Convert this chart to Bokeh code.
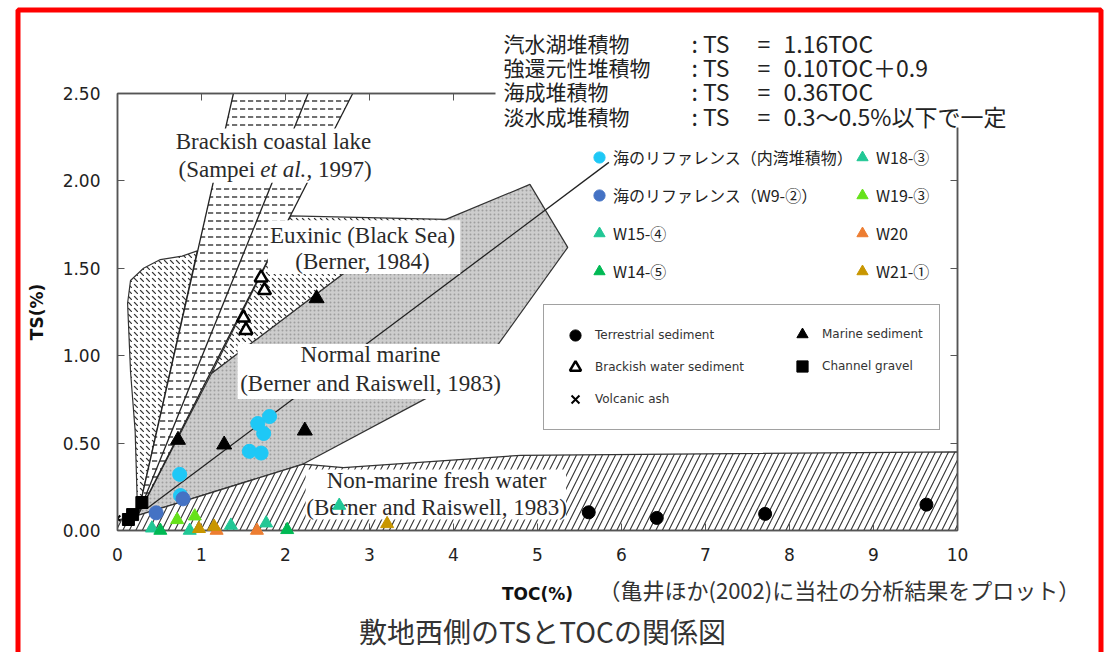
from bokeh.plotting import figure
from bokeh.models import (Range1d, LinearAxis, FixedTicker, NumeralTickFormatter,
                          CustomJSTickFormatter, Label, Legend, LegendItem)
from bokeh.core.properties import value
from bokeh.embed import file_html
from bokeh.resources import INLINE

# ---------------- axes ----------------
x_ticks = [0, 1, 2, 3, 4, 5, 6, 7, 8, 9, 10]
y_ticks = [0.0, 0.5, 1.0, 1.5, 2.0, 2.5]
y_inner_ticks = [0.5, 1.0, 1.5, 2.0]

# ---------------- overlay data (TOC %, TS %) ----------------
bay_toc = [1.67, 1.81, 1.74, 1.57, 1.71, 0.74, 0.75]
bay_ts = [0.612, 0.652, 0.555, 0.453, 0.443, 0.321, 0.200]
w9_toc = [0.78, 0.46]
w9_ts = [0.181, 0.101]
w15_toc = [0.41, 1.35, 2.64]
w15_ts = [0.013, 0.029, 0.143]
w14_toc = [0.51, 2.02]
w14_ts = [0.0, 0.004]
w18_toc = [0.86, 1.77]
w18_ts = [0.0, 0.042]
w19_toc = [0.71, 0.92]
w19_ts = [0.061, 0.082]
w20_toc = [1.18, 1.66]
w20_ts = [0.0, 0.0]
w21_toc = [0.97, 1.15, 3.21]
w21_ts = [0.010, 0.023, 0.038]

# ---------------- background figure (Kamei et al., 2002) ----------------
terr_toc = [5.61, 6.42, 7.71, 9.63]
terr_ts = [0.104, 0.072, 0.095, 0.148]
marine_toc = [0.72, 1.27, 2.23, 2.37]
marine_ts = [0.518, 0.491, 0.571, 1.328]
brack_toc = [1.71, 1.75, 1.50, 1.53]
brack_ts = [1.446, 1.374, 1.217, 1.146]
gravel_toc = [0.29, 0.18, 0.13]
gravel_ts = [0.160, 0.091, 0.063]
ash_toc = [0.0]
ash_ts = [0.07]

# fields
normal_x = [0.24, 2.21, 3.73, 4.54, 5.36, 4.91, 3.91, 2.69, 1.12]
normal_y = [0.086, 0.38, 0.77, 1.07, 1.62, 1.98, 1.78, 1.47, 0.90]
fresh_x = [0.0, 0.0, 0.24, 2.21, 2.69, 4.80, 10.0, 10.0]
fresh_y = [0.0, 0.06, 0.086, 0.38, 0.36, 0.43, 0.45, 0.0]
eux2_x = [2.06, 3.91, 2.69, 1.12]
eux2_y = [1.80, 1.78, 1.47, 0.90]
eux1_x = [0.24, 0.21, 0.155, 0.12, 0.155, 0.31, 0.51, 0.77, 0.95]
eux1_y = [0.086, 0.57, 0.91, 1.30, 1.43, 1.50, 1.55, 1.57, 1.60]
brackish_x = [0.24, 1.38, 2.80]
brackish_y = [0.086, 2.5, 2.5]
line_x0 = [0.24, 0.24, 0.24]
line_y0 = [0.086, 0.086, 0.086]
line_x1 = [1.38, 2.27, 2.80]
line_y1 = [2.5, 2.5, 2.5]
marine_line_x = [0.35, 5.85]
marine_line_y = [0.126, 2.106]
box_left = [0.51, 1.79, 1.43, 2.24]
box_right = [3.13, 4.08, 4.56, 5.34]
box_bottom = [1.99, 1.467, 0.753, 0.063]
box_top = [2.30, 1.775, 1.067, 0.349]

# text
eq_names = ["汽水湖堆積物", "強還元性堆積物", "海成堆積物", "淡水成堆積物"]
eq_values = ["1.16TOC", "0.10TOC＋0.9", "0.36TOC", "0.3～0.5%以下で一定"]
caption = "（亀井ほか(2002)に当社の分析結果をプロット）"
title = "敷地西側のTSとTOCの関係図"

JP = "Noto Sans CJK JP"
SERIF = "Liberation Serif"
SANS = "DejaVu Sans"

# page layout (pixels): frame from x=117..957, y=93..530
FL, FT, FW, FH = 117, 93, 840, 437
W, H = 1111, 652
XPX = FW / 10.0
YPX = FH / 2.5


def tx(X):
    return (X - FL) / XPX


def ty(Y):
    return (FT + FH - Y) / YPX


p = figure(width=W, height=H, x_range=Range1d(0, 10), y_range=Range1d(0, 2.5),
           output_backend="svg", toolbar_location=None,
           min_border_left=FL, min_border_right=W - FL - FW, min_border_top=FT,
           min_border_bottom=H - FT - FH,
           outline_line_color="#555", outline_line_width=1.5,
           background_fill_color="white", border_fill_color="white")
p.grid.visible = False

# ---- axes ----
xa = p.xaxis[0]
xa.ticker = FixedTicker(ticks=x_ticks)
xa.axis_label = "TOC(%)"
xa.axis_label_text_font = SANS
xa.axis_label_text_font_style = "bold"
xa.axis_label_text_font_size = "17px"
xa.axis_label_text_color = "#111"
xa.axis_label_standoff = 20
xa.major_label_text_font = SANS
xa.major_label_text_font_size = "17px"
xa.major_label_text_color = "#222"
xa.major_label_standoff = 17
xa.major_tick_in = 7
xa.major_tick_out = 0
xa.minor_tick_line_color = None
xa.axis_line_color = "#555"
xa.axis_line_width = 1.5
xa.major_tick_line_color = "#555"

ya = p.yaxis[0]
ya.ticker = FixedTicker(ticks=y_ticks)
ya.formatter = NumeralTickFormatter(format="0.00")
ya.axis_label = "TS(%)"
ya.axis_label_text_font = SANS
ya.axis_label_text_font_style = "bold"
ya.axis_label_text_font_size = "17px"
ya.axis_label_text_color = "#111"
ya.axis_label_standoff = 13
ya.major_label_text_font = SANS
ya.major_label_text_font_size = "17px"
ya.major_label_text_color = "#222"
ya.major_label_standoff = 17
ya.major_tick_in = 7
ya.major_tick_out = 0
ya.minor_tick_line_color = None
ya.axis_line_color = "#555"
ya.axis_line_width = 1.5
ya.major_tick_line_color = "#555"

blank = CustomJSTickFormatter(code="return ''")
top_ax = LinearAxis(ticker=FixedTicker(ticks=x_ticks), formatter=blank, major_tick_in=7,
                    major_tick_out=0, minor_tick_line_color=None, axis_line_color="#555",
                    axis_line_width=1.5, major_tick_line_color="#555")
p.add_layout(top_ax, "above")
right_ax = LinearAxis(ticker=FixedTicker(ticks=y_inner_ticks), formatter=blank, major_tick_in=7,
                      major_tick_out=0, minor_tick_line_color=None, axis_line_color="#555",
                      axis_line_width=1.5, major_tick_line_color="#555")
p.add_layout(right_ax, "right")

# ---- scanned fields ----
p.patch(normal_x, normal_y, fill_color="#cdcdcd", hatch_pattern=".", hatch_color="#8a8a8a",
        hatch_scale=4, hatch_weight=0.8, hatch_alpha=0.7, line_color="#333", line_width=1.2)
p.patch(fresh_x, fresh_y, fill_color="white", hatch_pattern="/", hatch_color="#333",
        hatch_scale=13, hatch_weight=1.1, line_color="#333", line_width=1.3)
p.patch(eux2_x, eux2_y, fill_color="white", hatch_pattern="`", hatch_color="#333",
        hatch_scale=6, hatch_weight=1.2, line_color="#333", line_width=1.2)
p.patch(eux1_x, eux1_y, fill_color="white", hatch_pattern="`", hatch_color="#333",
        hatch_scale=6, hatch_weight=1.2, line_color="#333", line_width=1.2)
p.patch(brackish_x, brackish_y, fill_color="white", hatch_pattern='"', hatch_color="#333",
        hatch_scale=8, hatch_weight=1.4, line_color=None)
p.segment(line_x0, line_y0, line_x1, line_y1, line_color="#222", line_width=1.3)
p.line(marine_line_x, marine_line_y, line_color="#222", line_width=1.3)
p.quad(left=box_left, right=box_right, bottom=box_bottom, top=box_top,
       fill_color="white", line_color=None)


def data_label(text, x, y, size=23, font=SERIF, align="center", style="normal", color="#2a2a2a"):
    p.add_layout(Label(x=x, y=y, text=text, text_font=font, text_font_size=f"{size}px",
                       text_align=align, text_baseline="middle", text_font_style=style,
                       text_color=color))


data_label("Brackish coastal lake", 1.857, 2.227)
data_label("(Sampei", 0.726, 2.066, align="left")
data_label("et al.", 1.70, 2.066, align="left", style="italic")
data_label(", 1997)", 2.25, 2.066, align="left")
data_label("Euxinic (Black Sea)", 2.917, 1.689)
data_label("(Berner, 1984)", 2.917, 1.541)
data_label("Normal marine", 3.012, 1.005)
data_label("(Berner and Raiswell, 1983)", 3.012, 0.839)
data_label("Non-marine fresh water", 3.798, 0.285)
data_label("(Berner and Raiswell, 1983)", 3.798, 0.131)

# ---- scanned data points ----
r_terr = p.scatter(terr_toc, terr_ts, marker="circle", size=13, fill_color="black", line_color="black")
r_marine = p.scatter(marine_toc, marine_ts, marker="triangle", size=15, fill_color="black", line_color="black")
r_brack = p.scatter(brack_toc, brack_ts, marker="triangle", size=13, fill_color="white",
                    line_color="black", line_width=2.5)
r_gravel = p.scatter(gravel_toc, gravel_ts, marker="square", size=12, fill_color="black", line_color="black")
r_ash = p.scatter(ash_toc, ash_ts, marker="x", size=8, line_color="black", line_width=2)


# ---- overlay data ----
def tri(xs, ys, color):
    return p.scatter(xs, ys, marker="triangle", size=13, fill_color=color, line_color=color, level="overlay")


r_bay = p.scatter(bay_toc, bay_ts, marker="circle", size=14, fill_color="#1EC8F6", line_color="#1EC8F6", level="overlay")
r_w9 = p.scatter(w9_toc, w9_ts, marker="circle", size=14, fill_color="#4472C4", line_color="#4472C4", level="overlay")
r_w15 = tri(w15_toc, w15_ts, "#21C795")
r_w14 = tri(w14_toc, w14_ts, "#00B954")
r_w18 = tri(w18_toc, w18_ts, "#21C795")
r_w19 = tri(w19_toc, w19_ts, "#66E21A")
r_w20 = tri(w20_toc, w20_ts, "#ED7D31")
r_w21 = tri(w21_toc, w21_ts, "#C89600")

# ---- legends ----
common = dict(orientation="vertical", padding=0, margin=0, border_line_color=None,
              background_fill_alpha=0, label_text_font=JP, label_text_font_size="16px",
              label_text_color="#222", glyph_width=28, glyph_height=28, label_height=28,
              label_standoff=0, spacing=10)
leg1 = Legend(items=[LegendItem(label="海のリファレンス（内湾堆積物）", renderers=[r_bay]),
                     LegendItem(label="海のリファレンス（W9-②）", renderers=[r_w9]),
                     LegendItem(label="W15-④", renderers=[r_w15]),
                     LegendItem(label="W14-⑤", renderers=[r_w14])],
              location=(468, 245), **common)
leg2 = Legend(items=[LegendItem(label="W18-③", renderers=[r_w18]),
                     LegendItem(label="W19-③", renderers=[r_w19]),
                     LegendItem(label="W20", renderers=[r_w20]),
                     LegendItem(label="W21-①", renderers=[r_w21])],
              location=(731, 245), **common)
p.add_layout(leg1)
p.add_layout(leg2)

scan_common = dict(orientation="vertical", margin=0, label_text_font=SANS, label_text_font_size="12px",
                   label_text_color="#333", glyph_width=30, glyph_height=28, label_height=28,
                   label_standoff=5, spacing=4)
leg3 = Legend(items=[LegendItem(label="Terrestrial sediment", renderers=[r_terr]),
                     LegendItem(label="Brackish water sediment", renderers=[r_brack]),
                     LegendItem(label="Volcanic ash", renderers=[r_ash])],
              location=(426, 100), padding=16, label_width=328, border_line_color="#444",
              border_line_width=1.3, background_fill_color="white", background_fill_alpha=1,
              **scan_common)
leg4 = Legend(items=[LegendItem(label="Marine sediment", renderers=[r_marine]),
                     LegendItem(label="Channel gravel", renderers=[r_gravel])],
              location=(670, 150), padding=0, border_line_color=None, background_fill_alpha=0,
              **scan_common)
p.add_layout(leg3)
p.add_layout(leg4)

# ---- texts outside the frame (overlay-level text glyphs, not clipped) ----
# white backing of the equation text block (hides the scan frame behind it)
p.quad(left=[tx(495)], right=[tx(1012)], top=[ty(28)], bottom=[ty(127)],
       fill_color="white", line_color=None, level="overlay")
rows_y = [42, 66, 90, 115]
p.text(x=[tx(503)] * 4, y=[ty(Y) for Y in rows_y], text=eq_names, text_font=value(JP),
       text_font_size="21px", text_align="left", text_baseline="middle", text_color="#222",
       level="overlay")
eq_x = [tx(691)] * 4 + [tx(757)] * 4 + [tx(783)] * 4
eq_y = [ty(Y) for Y in rows_y] * 3
eq_text = [": TS"] * 4 + ["="] * 4 + eq_values
p.text(x=eq_x, y=eq_y, text=eq_text, text_font=value(JP), text_font_size="23px",
       text_align="left", text_baseline="middle", text_color="#222", level="overlay")

p.text(x=[tx(598)], y=[ty(588)], text=[caption], text_font=value(JP), text_font_size="22px",
       text_align="left", text_baseline="middle", text_color="#333", level="overlay")
p.text(x=[tx(542)], y=[ty(630)], text=[title], text_font=value(JP), text_font_size="28px",
       text_align="center", text_baseline="middle", text_color="#333", level="overlay")

# red frame around the whole slide
p.quad(left=[tx(17.5)], right=[tx(1100.5)], top=[ty(9.5)], bottom=[ty(720)],
       fill_color=None, line_color="#FF0000", line_width=5, level="overlay")

open("out.html", "w").write(file_html(p, INLINE))
